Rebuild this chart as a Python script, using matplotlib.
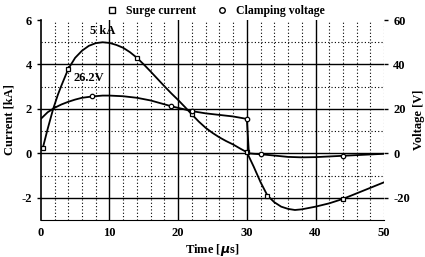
import numpy as np
import matplotlib
matplotlib.use("Agg")
import matplotlib.pyplot as plt
from matplotlib.lines import Line2D

plt.rcParams["font.family"] = ["Liberation Serif", "DejaVu Serif"]
plt.rcParams["font.weight"] = "bold"

# surge current [kA]
t_cur = [0.3, 1, 1.8, 2.5, 3, 4, 5, 6, 7, 8, 9, 10, 11, 12, 13, 14, 15, 16, 17, 18, 19, 20, 21,
         22, 23, 24, 25, 26, 27, 28, 29, 30, 31, 32, 33, 34, 35, 36, 37, 38, 40, 42, 44, 46, 48, 50]
i_cur = [0.25, 1.1, 2.0, 2.65, 3.05, 3.8, 4.3, 4.62, 4.84, 4.96, 5.0, 4.97, 4.88, 4.75, 4.55, 4.3,
         4.0, 3.68, 3.35, 3.02, 2.7, 2.4, 2.08, 1.75, 1.43, 1.15, 0.92, 0.72, 0.55, 0.4, 0.22, 0.05,
         -0.6, -1.3, -1.9, -2.2, -2.4, -2.5, -2.55, -2.52, -2.4, -2.25, -2.05, -1.8, -1.55, -1.3]
cur_marks = [0.3, 4, 14, 22, 30, 33, 44]

# clamping voltage [V]
t_volt = [0, 1, 2, 3, 4, 5, 6, 7.5, 9, 10, 12, 14, 16, 19, 22, 24, 26, 28, 30, 30.3,
          31, 32, 34, 36, 38, 40, 42, 44, 46, 48, 50]
v_volt = [15.5, 18.5, 20.5, 22.0, 23.2, 24.2, 25.0, 25.6, 26.0, 26.0, 25.7, 25.0, 23.8, 21.2, 19.0,
          18.0, 17.3, 16.6, 15.5, 0.0, -0.2, -0.4, -1.0, -1.6, -1.8, -1.7, -1.4, -1.1, -0.8, -0.5, -0.2]
volt_marks = [7.5, 19, 22, 30, 32, 44]

fig = plt.figure(figsize=(4.25, 2.57), dpi=100)
ax = fig.add_axes([0.096, 0.144, 0.808, 0.778])
ax2 = ax.twinx()

# grid: dotted minor, solid major
for x in np.arange(2, 52, 2):
    if x % 10 == 0 and x < 50:
        ax.axvline(x, color="black", lw=1.0, zorder=1)
    else:
        ax.axvline(x, color="black", lw=0.8, ls=(0, (1, 2)), zorder=1)
for y in range(-3, 7):
    if y in (4, 2, 0, -2):
        ax.axhline(y, color="black", lw=1.0, zorder=1)
    elif y in (-3, 6):
        pass
    else:
        ax.axhline(y, color="black", lw=0.8, ls=(0, (1, 2)), zorder=1)

tc = np.array(t_cur)
ax.plot(t_cur, i_cur, color="black", lw=1.3, marker="s", ms=3.2, mfc="white", mew=0.9,
        markevery=[int(np.argmin(abs(tc - m))) for m in cur_marks], zorder=3)
tv = np.array(t_volt)
ax2.plot(t_volt, v_volt, color="black", lw=1.3, marker="o", ms=3.2, mfc="white", mew=0.9,
         markevery=[int(np.argmin(abs(tv - m))) for m in volt_marks], zorder=3)

ax.set_xlim(0, 50)
ax.set_ylim(-3, 6)
ax2.set_ylim(-30, 60)
ax.set_xticks([0, 10, 20, 30, 40, 50])
ax.set_yticks([-2, 0, 2, 4, 6])
ax2.set_yticks([-20, 0, 20, 40, 60])
ax.set_yticklabels(["-2", "0", "2", "4", "6"])
ax2.set_yticklabels(["-20", "0", "20", "40", "60"])
for a in (ax, ax2):
    a.tick_params(labelsize=9, length=3, width=1)
    for s in a.spines.values():
        s.set_visible(False)
ax.spines["left"].set_visible(True)
ax.spines["left"].set_linewidth(1.2)
ax.spines["bottom"].set_visible(True)
ax.spines["bottom"].set_linewidth(0.8)
ax.tick_params(axis="x", length=0, pad=5)

ax.set_xlabel("Time [$\\mu$s]", fontsize=9, fontweight="bold", labelpad=2)
ax.set_ylabel("Current [kA]", fontsize=9, fontweight="bold", labelpad=4)
ax2.set_ylabel("Voltage [V]", fontsize=9, fontweight="bold", labelpad=2)

ax.text(9, 5.25, "5 kA", fontsize=9, fontweight="bold", ha="center", va="bottom", zorder=4)
ax.text(7, 3.4, "26.2V", fontsize=9, fontweight="bold", ha="center", va="center", zorder=4)

handles = [Line2D([], [], ls="none", marker="s", ms=4, mfc="white", mec="black"),
           Line2D([], [], ls="none", marker="o", ms=4, mfc="white", mec="black")]
fig.legend(handles, ["Surge current", "Clamping voltage"], loc="upper center",
           bbox_to_anchor=(0.5, 1.02), ncol=2, frameon=False, fontsize=8.5,
           handletextpad=0.2, columnspacing=1.2)

fig.savefig("out.png", dpi=100)
